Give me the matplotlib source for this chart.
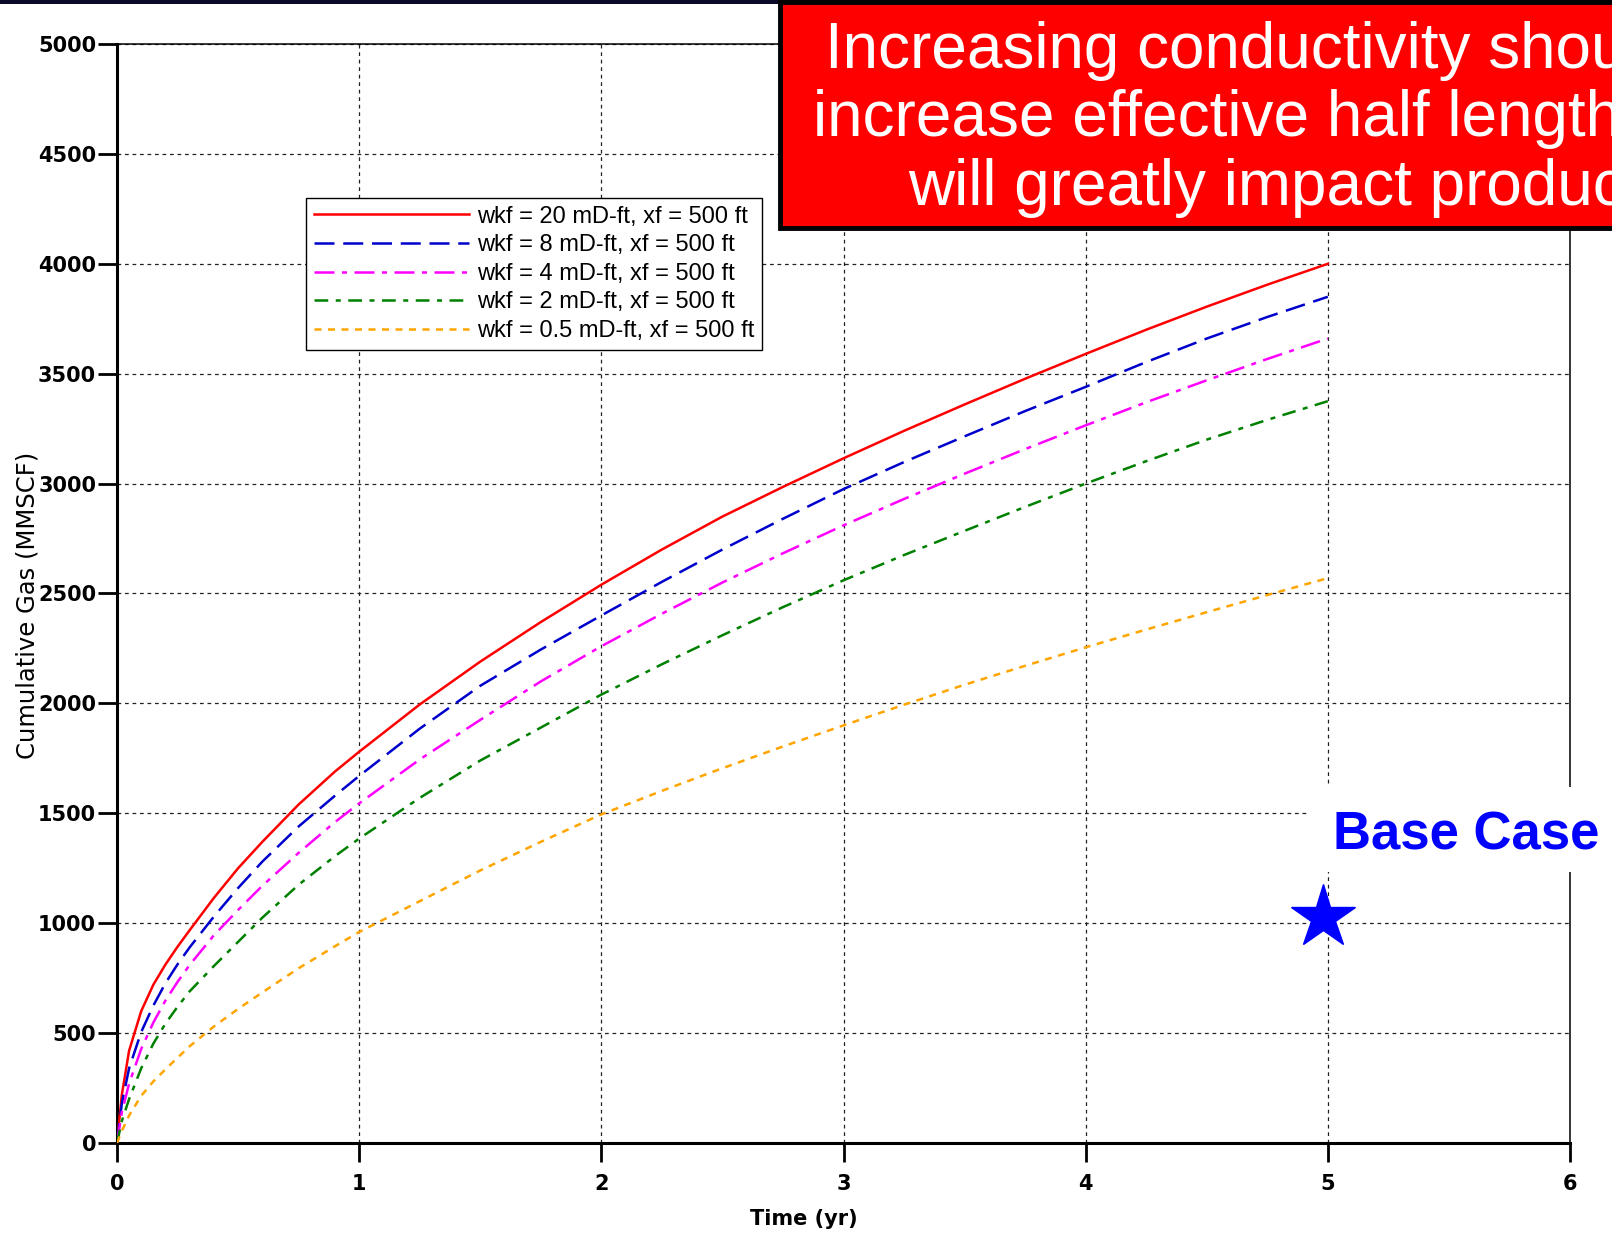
import matplotlib
matplotlib.use("Agg")
import matplotlib.pyplot as plt
from matplotlib.patches import Rectangle

# time (yr)
time_yr = [0, 0.02, 0.05, 0.1, 0.15, 0.2, 0.25, 0.3, 0.4, 0.5, 0.6, 0.75, 0.9, 1,
           1.25, 1.5, 1.75, 2, 2.25, 2.5, 2.75, 3, 3.25, 3.5, 3.75, 4, 4.25, 4.5, 4.75, 5]

# cumulative gas (MMSCF) per fracture conductivity case
gas_wkf20 = [0, 220, 420, 600, 720, 812, 893, 968, 1115, 1250, 1370, 1540, 1690, 1780,
             1995, 2190, 2370, 2540, 2700, 2850, 2985, 3115, 3240, 3360, 3477, 3590,
             3700, 3805, 3905, 4000]
gas_wkf8 = [0, 180, 340, 505, 625, 727, 813, 890, 1030, 1160, 1280, 1440, 1580, 1670,
            1885, 2080, 2245, 2400, 2553, 2700, 2840, 2975, 3098, 3215, 3330, 3440,
            3553, 3660, 3758, 3850]
gas_wkf4 = [0, 140, 270, 428, 548, 648, 733, 810, 945, 1060, 1170, 1320, 1460, 1545,
            1745, 1925, 2100, 2260, 2408, 2550, 2683, 2810, 2930, 3045, 3157, 3265,
            3370, 3470, 3567, 3660]
gas_wkf2 = [0, 100, 200, 340, 452, 543, 620, 690, 805, 915, 1025, 1175, 1305, 1385,
            1570, 1740, 1890, 2040, 2178, 2310, 2438, 2560, 2675, 2785, 2894, 3000,
            3102, 3200, 3290, 3375]
gas_wkf05 = [0, 55, 125, 215, 280, 335, 388, 440, 530, 610, 685, 795, 895, 960,
             1100, 1240, 1370, 1495, 1602, 1705, 1804, 1900, 1994, 2085, 2171, 2255,
             2336, 2415, 2493, 2570]

labels = ["wkf = 20 mD-ft, xf = 500 ft", "wkf = 8 mD-ft, xf = 500 ft",
          "wkf = 4 mD-ft, xf = 500 ft", "wkf = 2 mD-ft, xf = 500 ft",
          "wkf = 0.5 mD-ft, xf = 500 ft"]

base_case_t = [4.98]
base_case_gas = [1030]

x_ticks = [0, 1, 2, 3, 4, 5, 6]
y_ticks = [0, 500, 1000, 1500, 2000, 2500, 3000, 3500, 4000, 4500, 5000]

W, H = 1612, 1250
fig = plt.figure(figsize=(W / 100, H / 100), dpi=100)
ax = fig.add_axes([117 / W, 1 - 1143 / H, 1453 / W, 1099 / H])

series = [gas_wkf20, gas_wkf8, gas_wkf4, gas_wkf2, gas_wkf05]
colors = ["#ff0000", "#0000cc", "#ff00ff", "#008000", "#ffa500"]
styles = ["-", (0, (8, 3.5)), (0, (8, 3, 2, 3)),
          (0, (5.5, 3, 2, 3)), (0, (2.8, 2.6))]
for y, c, ls, lab in zip(series, colors, styles, labels):
    ax.plot(time_yr, y, color=c, linestyle=ls, linewidth=1.8, label=lab, zorder=3)

ax.plot(base_case_t, base_case_gas, marker="*", markersize=48, color="#0000ff",
        linestyle="none", zorder=4, clip_on=False)

ax.set_xlim(0, 6)
ax.set_ylim(0, 5000)
ax.set_xticks(x_ticks)
ax.set_yticks(y_ticks)
ax.grid(True, color="#222222", linestyle=(0, (3, 3)), linewidth=0.9)
ax.set_axisbelow(True)

for s in ["left", "bottom"]:
    ax.spines[s].set_linewidth(2.2)
for s in ["top", "right"]:
    ax.spines[s].set_linewidth(1.1)

ax.tick_params(axis="both", direction="out", length=14, width=2, colors="black")
ax.tick_params(axis="y", pad=1)
ax.tick_params(axis="x", pad=8)
for t in ax.get_xticklabels() + ax.get_yticklabels():
    t.set_fontsize(15)
    t.set_fontweight("bold")
    t.set_family("DejaVu Sans")

ax.set_xlabel("Time (yr)", fontsize=15, fontweight="bold", va="center")
ax.set_ylabel("Cumulative Gas (MMSCF)", fontsize=17.5, va="center")
ax.xaxis.set_label_coords(0.473, -0.069)
ax.yaxis.set_label_coords(-0.0615, 0.489)

leg = ax.legend(loc="upper left", bbox_to_anchor=(306 / W, 1 - 198 / H),
                bbox_transform=fig.transFigure, prop={"family": "Liberation Sans", "size": 17},
                fancybox=False, framealpha=1, edgecolor="black", borderaxespad=0,
                handlelength=6.6, handletextpad=0.33, labelspacing=0.28, borderpad=0.32)
leg.get_frame().set_linewidth(1.0)

# top dark band
fig.add_artist(Rectangle((0, 1 - 4 / H), 1, 4 / H, transform=fig.transFigure,
                         facecolor="#0a0a28", edgecolor="none", zorder=5))

# red call-out box (runs off the right edge, as in the slide)
fig.add_artist(Rectangle((780 / W, 1 - 228 / H), (W - 780 + 20) / W, 226 / H,
                         transform=fig.transFigure, facecolor="#ff0000",
                         edgecolor="black", linewidth=3.5, zorder=6, clip_on=False))
box_lines = [("Increasing conductivity should", 825, 68),
             ("increase effective half length", 813, 136),
             ("will greatly impact production", 908, 205)]
for txt, px, py in box_lines:
    fig.text(px / W, 1 - py / H, txt, color="white", fontsize=46,
             family="Liberation Sans", ha="left", va="baseline", zorder=7)

# base case label on white patch
fig.add_artist(Rectangle((1308 / W, 1 - 872 / H), (W - 1308) / W, 85 / H,
                         transform=fig.transFigure, facecolor="white",
                         edgecolor="none", zorder=6))
fig.text(1333 / W, 1 - 850 / H, "Base Case", color="#0000ff", fontsize=38,
         fontweight="bold", family="Liberation Sans", ha="left", va="baseline", zorder=7)

fig.savefig("out.png", dpi=100)
